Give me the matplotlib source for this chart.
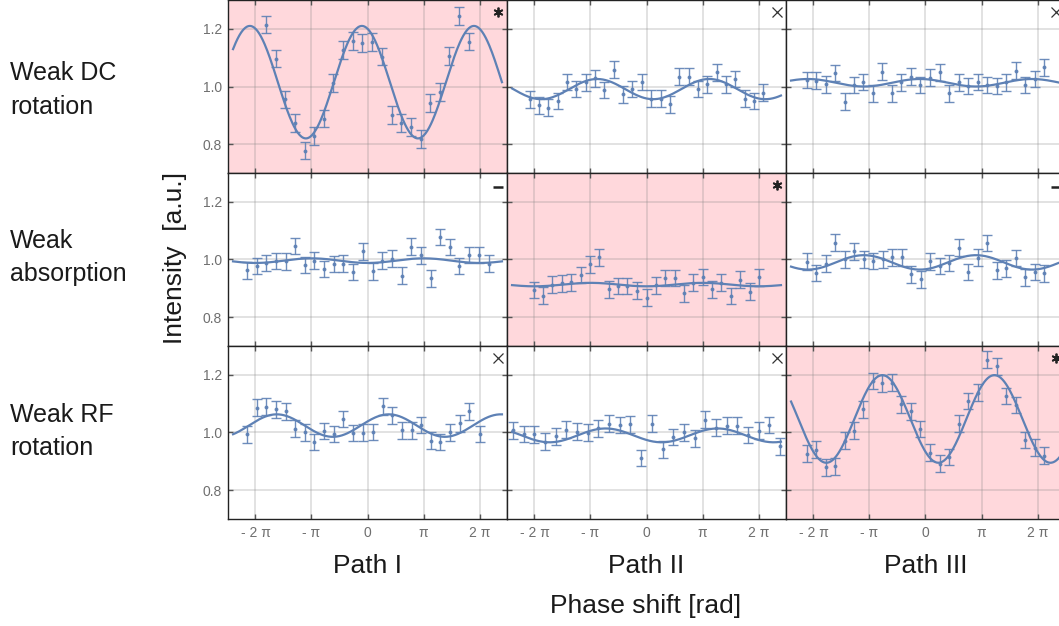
import numpy as np
import matplotlib
matplotlib.use("Agg")
import matplotlib.pyplot as plt

plt.rcParams['font.family'] = ['Liberation Sans', 'DejaVu Sans']

BLUE = '#5e81b5'
PINK = '#ffd8dc'

# phase positions (units of pi) and measured intensities, row by row
x11 = [-1.81, -1.64, -1.47, -1.30, -1.12, -0.95, -0.78, -0.61, -0.43, -0.26, -0.09,
       0.08, 0.26, 0.43, 0.60, 0.77, 0.95, 1.12, 1.29, 1.46, 1.64, 1.81]
y11 = [1.215, 1.097, 0.955, 0.874, 0.778, 0.828, 0.889, 1.013, 1.126, 1.157, 1.150,
       1.153, 1.104, 0.902, 0.873, 0.861, 0.817, 0.942, 0.980, 1.105, 1.243, 1.156]

x12 = [-2.08, -1.92, -1.75, -1.58, -1.42, -1.25, -1.08, -0.92, -0.75, -0.58, -0.42, -0.25, -0.08,
       0.08, 0.25, 0.42, 0.58, 0.75, 0.92, 1.08, 1.25, 1.42, 1.58, 1.75, 1.92, 2.08]
y12 = [0.956, 0.935, 0.927, 0.950, 1.016, 0.991, 1.014, 1.028, 0.988, 1.058, 0.973, 0.991, 1.016,
       0.958, 0.958, 0.938, 1.034, 1.034, 0.991, 1.008, 1.049, 1.008, 1.026, 0.958, 0.950, 0.979]

x13 = [-2.12, -1.95, -1.78, -1.61, -1.44, -1.27, -1.11, -0.93, -0.77, -0.60, -0.43, -0.26, -0.09,
       0.08, 0.25, 0.42, 0.59, 0.76, 0.93, 1.10, 1.27, 1.44, 1.61, 1.78, 1.95, 2.11]
y13 = [1.023, 1.020, 1.008, 1.047, 0.947, 1.005, 1.016, 0.976, 1.052, 0.976, 1.014, 1.034, 1.005,
       1.031, 1.049, 0.976, 1.014, 1.002, 1.016, 1.005, 1.002, 1.014, 1.055, 1.005, 1.026, 1.066]

x21 = [-2.15, -1.98, -1.81, -1.64, -1.46, -1.29, -1.12, -0.95, -0.77, -0.60, -0.43, -0.26, -0.08,
       0.09, 0.26, 0.43, 0.61, 0.78, 0.95, 1.13, 1.30, 1.47, 1.64, 1.82, 1.99, 2.16]
y21 = [0.963, 0.977, 0.988, 0.995, 0.994, 1.047, 0.981, 0.996, 0.967, 0.984, 0.986, 0.957, 1.029,
       0.959, 0.996, 1.003, 0.944, 1.044, 1.014, 0.935, 1.078, 1.043, 0.977, 1.016, 1.016, 0.986]

x22 = [-2.01, -1.85, -1.68, -1.51, -1.35, -1.17, -1.00, -0.84, -0.67, -0.50, -0.34, -0.17, 0.00,
       0.17, 0.33, 0.50, 0.67, 0.83, 1.00, 1.17, 1.33, 1.50, 1.67, 1.85, 2.01]
y22 = [0.894, 0.874, 0.913, 0.917, 0.921, 0.946, 0.983, 1.007, 0.896, 0.908, 0.908, 0.892, 0.868,
       0.910, 0.936, 0.936, 0.883, 0.920, 0.939, 0.897, 0.920, 0.873, 0.930, 0.888, 0.938]

x23 = [-2.12, -1.95, -1.78, -1.61, -1.44, -1.27, -1.10, -0.93, -0.76, -0.60, -0.42, -0.26, -0.08,
       0.08, 0.26, 0.42, 0.60, 0.76, 0.93, 1.10, 1.27, 1.44, 1.61, 1.78, 1.95, 2.12]
y23 = [0.992, 0.953, 0.986, 1.058, 1.000, 1.029, 1.000, 0.995, 1.001, 1.007, 1.007, 0.949, 0.931,
       0.994, 0.977, 0.988, 1.041, 0.957, 1.006, 1.057, 0.963, 0.970, 1.005, 0.938, 0.957, 0.952]

x31 = [-2.15, -1.98, -1.81, -1.64, -1.46, -1.29, -1.12, -0.95, -0.77, -0.60, -0.43, -0.26, -0.08,
       0.10, 0.27, 0.44, 0.61, 0.79, 0.96, 1.13, 1.30, 1.48, 1.65, 1.82, 2.00]
y31 = [0.994, 1.086, 1.090, 1.080, 1.073, 1.013, 1.000, 0.967, 1.005, 0.995, 1.047, 0.998, 0.999,
       1.002, 1.091, 1.060, 1.008, 1.008, 1.026, 0.971, 0.967, 1.000, 1.032, 1.073, 0.995]

x32 = [-2.38, -2.19, -2.00, -1.81, -1.62, -1.43, -1.24, -1.05, -0.86, -0.67, -0.48, -0.29, -0.10,
       0.10, 0.29, 0.48, 0.67, 0.86, 1.05, 1.24, 1.43, 1.62, 1.81, 2.00, 2.19, 2.38]
y32 = [1.007, 0.995, 0.994, 0.968, 0.987, 1.010, 1.003, 0.999, 1.015, 1.030, 1.026, 1.028, 0.912,
       1.030, 0.942, 0.984, 1.000, 0.980, 1.044, 1.017, 1.024, 1.024, 0.991, 1.006, 1.026, 0.952]

x33 = [-2.12, -1.95, -1.78, -1.61, -1.44, -1.27, -1.11, -0.93, -0.77, -0.60, -0.43, -0.26, -0.09,
       0.08, 0.26, 0.42, 0.60, 0.76, 0.93, 1.10, 1.27, 1.44, 1.61, 1.78, 1.95, 2.12]
y33 = [0.926, 0.940, 0.879, 0.883, 0.971, 1.006, 1.081, 1.179, 1.170, 1.173, 1.098, 1.074, 1.012,
       0.930, 0.892, 0.915, 1.031, 1.109, 1.138, 1.252, 1.230, 1.127, 1.095, 0.974, 0.947, 0.919]

errs = [0.031, 0.029, 0.029, 0.029, 0.029, 0.029, 0.029, 0.029, 0.029]

# sinusoidal fits: offset, amplitude, phase of maximum (units of pi)
fit_offset = [1.015, 0.991, 1.013, 0.996, 0.913, 0.990, 1.024, 0.990, 1.047]
fit_amp = [0.195, 0.035, 0.013, 0.008, 0.006, 0.025, 0.039, 0.024, 0.152]
fit_peak = [-0.10, -0.88, -0.10, -1.00, -1.00, -1.10, 0.38, -0.73, -0.77]

row_labels = ["Weak DC\nrotation", "Weak\nabsorption", "Weak RF\nrotation"]
col_labels = ["Path I", "Path II", "Path III"]
significant = [True, False, False, False, True, False, False, False, True]
corner = ['*', 'x', 'x', '-', '*', '-', 'x', 'x', '*']

xs = [x11, x12, x13, x21, x22, x23, x31, x32, x33]
ys = [y11, y12, y13, y21, y22, y23, y31, y32, y33]

W, H = 1059, 626
fig = plt.figure(figsize=(W / 100, H / 100), dpi=100)

col_left = [228, 507, 786]
row_top = [0, 173, 346]
pw, ph = 279, 173

xticks = [-2, -1, 0, 1, 2]
xticklabels = ["- 2 \u03c0", "- \u03c0", "0", "\u03c0", "2 \u03c0"]
curve_x = np.linspace(-2.4, 2.4, 300)

for i in range(9):
    r, c = divmod(i, 3)
    ax = fig.add_axes([col_left[c] / W, (H - row_top[r] - ph) / H, pw / W, ph / H])
    if significant[i]:
        ax.set_facecolor(PINK)
    ax.set_xlim(-2.49, 2.49)
    ax.set_ylim(0.7, 1.3)
    ax.set_xticks(xticks)
    ax.set_yticks([0.8, 1.0, 1.2])
    ax.grid(True, color='#888888', alpha=0.25, lw=1.4)
    ax.set_axisbelow(True)
    ax.tick_params(direction='in', length=3.5, width=1, color='#555555',
                   labelsize=10, labelcolor='#6f6f6f', top=True, right=True)
    ax.tick_params(axis='x', pad=5)
    ax.tick_params(axis='y', pad=4.5)
    if r == 2:
        ax.set_xticklabels(xticklabels)
    else:
        ax.set_xticklabels([])
    if c == 0:
        ax.set_yticklabels(["0.8", "1.0", "1.2"])
    else:
        ax.set_yticklabels([])
    for sp in ax.spines.values():
        sp.set_color('#222222')
        sp.set_linewidth(1.0)

    fit = fit_offset[i] + fit_amp[i] * np.cos(np.pi * (curve_x - fit_peak[i]))
    ax.plot(curve_x, fit, color=BLUE, lw=1.6, zorder=3)
    ax.errorbar(xs[i], ys[i], yerr=errs[i], fmt='o', ms=1.8, color=BLUE,
                ecolor=BLUE, elinewidth=1.0, capsize=3.5, capthick=1.0,
                alpha=0.9, zorder=4)

    mx, my = 1 - 9 / pw, 1 - 12 / ph
    if corner[i] == '*':
        ax.plot([mx], [my], marker=(6, 2, 0), ms=7, mew=1.3, color='#222222',
                transform=ax.transAxes, clip_on=False, zorder=5)
    elif corner[i] == 'x':
        ax.plot([mx], [my], marker='x', ms=7.5, mew=0.9, color='#333333',
                transform=ax.transAxes, clip_on=False, zorder=5)
    else:
        ax.plot([mx], [my - 0.01], marker='_', ms=7, mew=1.8, color='#222222',
                transform=ax.transAxes, clip_on=False, zorder=5)

# row labels (baseline of the last line)
label_base = [114, 281, 455]
for r, lab in enumerate(row_labels):
    fig.text(10 / W, 1 - label_base[r] / H, lab, fontsize=18,
             ha='left', va='baseline', linespacing=1.5, color='#1a1a1a')

# column labels
for c, lab in enumerate(col_labels):
    fig.text((col_left[c] + 139.5) / W, 1 - 573 / H, lab, fontsize=19,
             ha='center', va='baseline', color='#1a1a1a')

fig.text(645.7 / W, 1 - 612.7 / H, "Phase shift [rad]", fontsize=19,
         ha='center', va='baseline', color='#1a1a1a')
fig.text(175 / W, 1 - 258 / H, "Intensity  [a.u.]", fontsize=19, rotation=90,
         ha='center', va='center', color='#1a1a1a')

fig.savefig("out.png", dpi=100)
